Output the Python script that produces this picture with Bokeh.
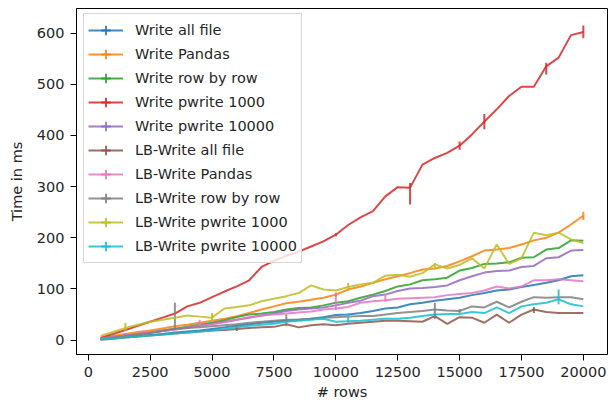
import numpy as np
from bokeh.plotting import figure
from bokeh.models import Range1d, FixedTicker, Legend, LegendItem
from bokeh.embed import file_html
from bokeh.resources import INLINE

# ---- data ----
rows = [500, 1000, 1500, 2000, 2500, 3000, 3500, 4000, 4500, 5000,
        5500, 6000, 6500, 7000, 7500, 8000, 8500, 9000, 9500, 10000,
        10500, 11000, 11500, 12000, 12500, 13000, 13500, 14000, 14500, 15000,
        15500, 16000, 16500, 17000, 17500, 18000, 18500, 19000, 19500, 20000]

write_all_file = [2, 4, 6, 8, 10, 12, 15, 17, 19, 22, 25, 28, 31, 34, 36, 38, 40, 42, 45, 49,
                  50, 53, 57, 62, 64, 70, 73, 77, 80, 83, 88, 92, 97, 99, 104, 108, 112, 117, 125, 127]
write_pandas = [4, 8, 12, 16, 19, 23, 27, 30, 34, 38, 42, 47, 53, 60, 66, 72, 75, 79, 83, 89,
                99, 105, 112, 119, 125, 131, 138, 140, 145, 154, 164, 175, 177, 180, 187, 195, 200, 210, 226, 243]
write_row_by_row = [3, 6, 9, 12, 15, 19, 22, 26, 30, 34, 39, 45, 50, 52, 55, 60, 63, 64, 68, 73,
                    76, 83, 89, 96, 105, 109, 117, 119, 122, 136, 141, 149, 150, 152, 161, 162, 177, 180, 195, 194]
write_pwrite_1000 = [5, 12, 20, 28, 36, 44, 52, 66, 73, 84, 95, 105, 117, 143, 155, 165, 173, 183, 193, 206,
                     225, 240, 252, 281, 299, 298, 343, 356, 366, 380, 402, 427, 451, 477, 495, 495, 535, 552, 596, 602]
write_pwrite_10000 = [3, 6, 9, 12, 15, 18, 21, 24, 28, 32, 36, 40, 44, 48, 52, 57, 60, 62, 64, 68,
                      73, 77, 86, 89, 96, 101, 102, 104, 107, 117, 125, 132, 135, 136, 143, 145, 160, 162, 175, 176]
lb_write_all_file = [1, 3, 5, 7, 9, 11, 13, 15, 17, 19, 20, 22, 24, 25, 26, 31, 25, 29, 31, 29,
                     32, 34, 36, 38, 38, 37, 36, 47, 32, 45, 44, 34, 50, 34, 50, 60, 55, 53, 53, 53]
lb_write_pandas = [3, 6, 9, 12, 15, 18, 21, 25, 28, 31, 35, 40, 45, 48, 50, 52, 54, 56, 60, 62,
                   65, 73, 76, 78, 81, 82, 83, 84, 88, 90, 92, 97, 105, 101, 105, 117, 117, 119, 117, 115]
lb_write_row_by_row = [2, 5, 8, 11, 14, 18, 23, 24, 25, 27, 29, 31, 34, 36, 38, 40, 40, 42, 44, 45,
                       46, 47, 47, 50, 53, 55, 57, 60, 58, 57, 66, 64, 75, 64, 75, 84, 83, 84, 84, 80]
lb_write_pwrite_1000 = [8, 16, 24, 30, 36, 40, 44, 48, 46, 44, 62, 65, 68, 76, 81, 86, 92, 107, 99, 97,
                        104, 109, 112, 126, 128, 124, 131, 148, 140, 147, 160, 140, 187, 149, 160, 210, 205, 210, 197, 190]
lb_write_pwrite_10000 = [2, 3.5, 5, 7, 9, 11, 13, 15, 17, 19, 22, 25, 28, 30, 32, 36, 38, 40, 42, 36,
                         37, 38, 40, 42, 42, 44, 47, 50, 51, 51, 55, 53, 64, 53, 66, 70, 73, 80, 70, 66]

# visible error bars: x positions, lower extent, upper extent
err_write_all_file = ([], [], [])
err_write_pandas = ([10000, 20000], [4, 8], [4, 8])
err_write_row_by_row = ([], [], [])
err_write_pwrite_1000 = ([10000, 13000, 15000, 16000, 18500, 20000],
                         [3, 33, 8, 15, 16, 12], [3, 9, 8, 15, 7, 13])
err_write_pwrite_10000 = ([], [], [])
err_lb_write_all_file = ([6000, 14000, 18000], [4, 5, 7], [6, 5, 5])
err_lb_write_pandas = ([4500, 10000, 12000], [3, 3, 3], [12, 28, 12])
err_lb_write_row_by_row = ([3500, 8000, 14000, 15000], [3, 13, 16, 4], [50, 10, 13, 4])
err_lb_write_pwrite_1000 = ([1500, 5000, 10500, 14000], [6, 7, 8, 10], [10, 9, 8, 3])
err_lb_write_pwrite_10000 = ([10500, 19000], [3, 10], [15, 19])

labels = ["Write all file", "Write Pandas", "Write row by row", "Write pwrite 1000",
          "Write pwrite 10000", "LB-Write all file", "LB-Write Pandas", "LB-Write row by row",
          "LB-Write pwrite 1000", "LB-Write pwrite 10000"]
values = [write_all_file, write_pandas, write_row_by_row, write_pwrite_1000, write_pwrite_10000,
          lb_write_all_file, lb_write_pandas, lb_write_row_by_row, lb_write_pwrite_1000, lb_write_pwrite_10000]
errors = [err_write_all_file, err_write_pandas, err_write_row_by_row, err_write_pwrite_1000,
          err_write_pwrite_10000, err_lb_write_all_file, err_lb_write_pandas, err_lb_write_row_by_row,
          err_lb_write_pwrite_1000, err_lb_write_pwrite_10000]
colors = ["#1f77b4", "#ff7f0e", "#2ca02c", "#d62728", "#9467bd",
          "#8c564b", "#e377c2", "#7f7f7f", "#bcbd22", "#17becf"]

x_ticks = [0, 2500, 5000, 7500, 10000, 12500, 15000, 17500, 20000]
y_ticks = [0, 100, 200, 300, 400, 500, 600]

FONT = "DejaVu Sans"
TXT = "#262626"
LW = 2

p = figure(width=609, height=408, output_backend="svg", toolbar_location=None,
           x_range=Range1d(-475, 20975), y_range=Range1d(-28, 648),
           min_border_left=76, min_border_right=2, min_border_top=8, min_border_bottom=54)
p.grid.visible = False
p.background_fill_color = "white"
p.border_fill_color = "white"
p.outline_line_color = "black"
p.outline_line_width = 1
p.outline_line_alpha = 1

p.xaxis.ticker = FixedTicker(ticks=x_ticks)
p.yaxis.ticker = FixedTicker(ticks=y_ticks)
for ax in (p.xaxis, p.yaxis):
    ax.axis_line_color = "black"
    ax.major_tick_line_color = "black"
    ax.major_tick_out = 6
    ax.major_tick_in = 0
    ax.minor_tick_line_color = None
    ax.major_label_text_font = FONT
    ax.major_label_text_font_size = "14.5px"
    ax.major_label_text_color = TXT
    ax.major_label_standoff = 6
    ax.axis_label_text_font = FONT
    ax.axis_label_text_font_size = "14.5px"
    ax.axis_label_text_font_style = "normal"
    ax.axis_label_text_color = TXT
p.xaxis.axis_label = "# rows"
p.yaxis.axis_label = "Time in ms"
p.xaxis.axis_label_standoff = 4
p.yaxis.axis_label_standoff = 9

items = []
for name, vals, (ex, lo, hi), color in zip(labels, values, errors, colors):
    r = p.line(rows, vals, line_color=color, line_width=LW, line_alpha=0.85)
    if ex:
        ys = [vals[rows.index(x)] for x in ex]
        p.segment(x0=ex, x1=ex,
                  y0=[a - b for a, b in zip(ys, lo)], y1=[a + b for a, b in zip(ys, hi)],
                  line_color=color, line_width=LW, line_alpha=0.85)
    m = p.scatter(x=[np.nan], y=[np.nan], marker="cross", size=10,
                  line_color=color, line_width=LW, line_alpha=0.85)
    items.append(LegendItem(label=name, renderers=[r, m]))

legend = Legend(items=items, location=(7, 91), margin=0, padding=4,
                spacing=0, glyph_width=35, glyph_height=24, label_height=20,
                label_standoff=12,
                label_text_font=FONT, label_text_font_size="14.5px", label_text_color=TXT,
                border_line_color="#cccccc", border_line_width=1, border_line_alpha=0.8,
                background_fill_color="white", background_fill_alpha=0.8)
p.add_layout(legend)

open("out.html", "w").write(file_html(p, INLINE))
